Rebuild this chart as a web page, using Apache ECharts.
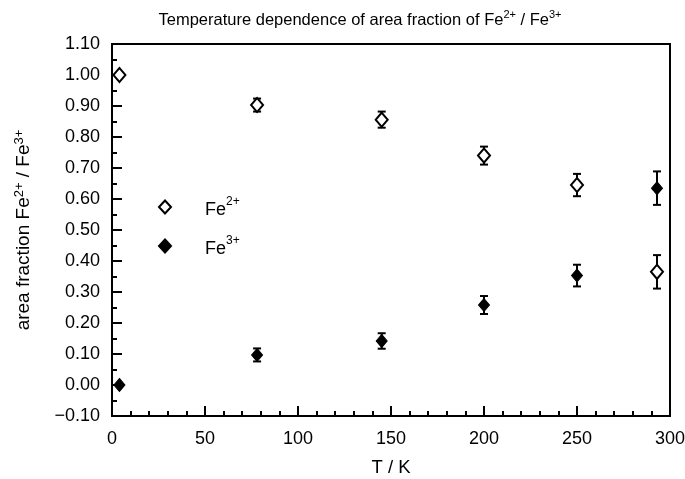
<!DOCTYPE html>
<html>
<head>
<meta charset="utf-8">
<script src="https://cdn.jsdelivr.net/npm/echarts@6/dist/echarts.min.js"></script>
<style>html,body{margin:0;padding:0;background:#fff}#c{width:685px;height:479px}</style>
</head>
<body>
<div id="c"></div>
<script>
const temps = [4, 78, 145, 200, 250, 293];
const fe2 = [1.00, 0.903, 0.856, 0.74, 0.645, 0.365];
const fe2Err = [0, 0.021, 0.026, 0.029, 0.036, 0.054];
const fe3 = [0.00, 0.097, 0.142, 0.258, 0.353, 0.635];
const fe3Err = [0, 0.021, 0.025, 0.029, 0.035, 0.054];
const seriesNames = ['Fe2+', 'Fe3+'];

const FONT = 'Liberation Sans';
function supRich(fs) {
  return {
    n: {fontSize: fs, fontFamily: FONT, color: '#000', lineHeight: 24, verticalAlign: 'bottom'},
    s: {fontSize: Math.round(fs * 0.68), fontFamily: FONT, color: '#000', lineHeight: 24, verticalAlign: 'top', padding: [1,0,0,0]}
  };
}

function errData(vals, errs) {
  return temps.map((t, i) => [t, vals[i] - errs[i], vals[i] + errs[i], errs[i]]);
}
function errRender(params, api) {
  const e = api.value(3);
  if (!e) return null;
  const x = api.value(0);
  const lo = api.coord([x, api.value(1)]);
  const hi = api.coord([x, api.value(2)]);
  const w = 4;
  const st = {stroke: '#000', lineWidth: 2};
  return {
    type: 'group',
    children: [
      {type: 'line', shape: {x1: lo[0], y1: lo[1], x2: hi[0], y2: hi[1]}, style: st},
      {type: 'line', shape: {x1: lo[0]-w, y1: lo[1], x2: lo[0]+w, y2: lo[1]}, style: st},
      {type: 'line', shape: {x1: hi[0]-w, y1: hi[1], x2: hi[0]+w, y2: hi[1]}, style: st}
    ]
  };
}

const chart = echarts.init(document.getElementById('c'));
chart.setOption({
  animation: false,
  backgroundColor: '#fff',
  title: {
    text: 'Temperature dependence of area fraction of Fe{s|2+} / Fe{s|3+}',
    left: 355, top: 3, textAlign: 'center',
    textStyle: {fontSize: 16.5, fontFamily: FONT, fontWeight: 'normal', color: '#000', rich: supRich(16.5)}
  },
  grid: {left: 112, right: 15, top: 44, bottom: 63, containLabel: false, outerBoundsMode: 'none',
         show: true, borderColor: '#000', borderWidth: 2, backgroundColor: 'transparent'},
  legend: {
    data: seriesNames,
    orient: 'vertical',
    left: 153, top: 190,
    itemWidth: 12, itemHeight: 13,
    itemGap: 15,
    formatter: function (name) {
      return name === 'Fe2+' ? '{p|}{n|Fe}{s|2+}' : '{p|}{n|Fe}{s|3+}';
    },
    textStyle: {
      fontSize: 18, fontFamily: FONT, color: '#000',
      rich: Object.assign({p: {width: 29}}, supRich(18))
    }
  },
  xAxis: {
    type: 'value', min: 0, max: 300, interval: 50,
    name: 'T / K', nameLocation: 'middle', nameGap: 42,
    nameTextStyle: {fontSize: 18.5, fontFamily: FONT, color: '#000'},
    axisLine: {show: true, onZero: false, lineStyle: {color: '#000', width: 2}},
    axisTick: {show: true, inside: true, length: 10, lineStyle: {color: '#000', width: 2}},
    minorTick: {show: true, splitNumber: 5, length: 5, lineStyle: {color: '#000', width: 2}},
    axisLabel: {fontSize: 18, fontFamily: FONT, color: '#000', margin: 14},
    splitLine: {show: false}
  },
  yAxis: {
    type: 'value', min: -0.1, max: 1.1, interval: 0.1,
    name: 'area fraction Fe{s|2+} / Fe{s|3+}', nameLocation: 'middle', nameGap: 76,
    nameTextStyle: {fontSize: 19, fontFamily: FONT, color: '#000', rich: supRich(19)},
    axisLine: {show: true, onZero: false, lineStyle: {color: '#000', width: 2}},
    axisTick: {show: true, inside: true, length: 10, lineStyle: {color: '#000', width: 2}},
    minorTick: {show: true, splitNumber: 2, length: 5, lineStyle: {color: '#000', width: 2}},
    axisLabel: {
      fontSize: 18, fontFamily: FONT, color: '#000', margin: 12, padding: [3, 0, 0, 0],
      formatter: function (v) { const s = Math.abs(v).toFixed(2); return v < -1e-9 ? '\u2212' + s : s; }
    },
    splitLine: {show: false}
  },
  series: [
    {type: 'custom', name: 'err2', renderItem: errRender, data: errData(fe2, fe2Err), z: 1, silent: true},
    {type: 'custom', name: 'err3', renderItem: errRender, data: errData(fe3, fe3Err), z: 1, silent: true},
    {
      type: 'scatter', name: 'Fe2+', symbol: 'diamond', symbolSize: [12, 14], z: 3,
      itemStyle: {color: '#fff', borderColor: '#000', borderWidth: 2, opacity: 1},
      data: temps.map((t, i) => [t, fe2[i]])
    },
    {
      type: 'scatter', name: 'Fe3+', symbol: 'diamond', symbolSize: [11, 13], z: 3,
      itemStyle: {color: '#000', borderColor: '#000', borderWidth: 1, opacity: 1},
      data: temps.map((t, i) => [t, fe3[i]])
    }
  ]
});
</script>
</body>
</html>
